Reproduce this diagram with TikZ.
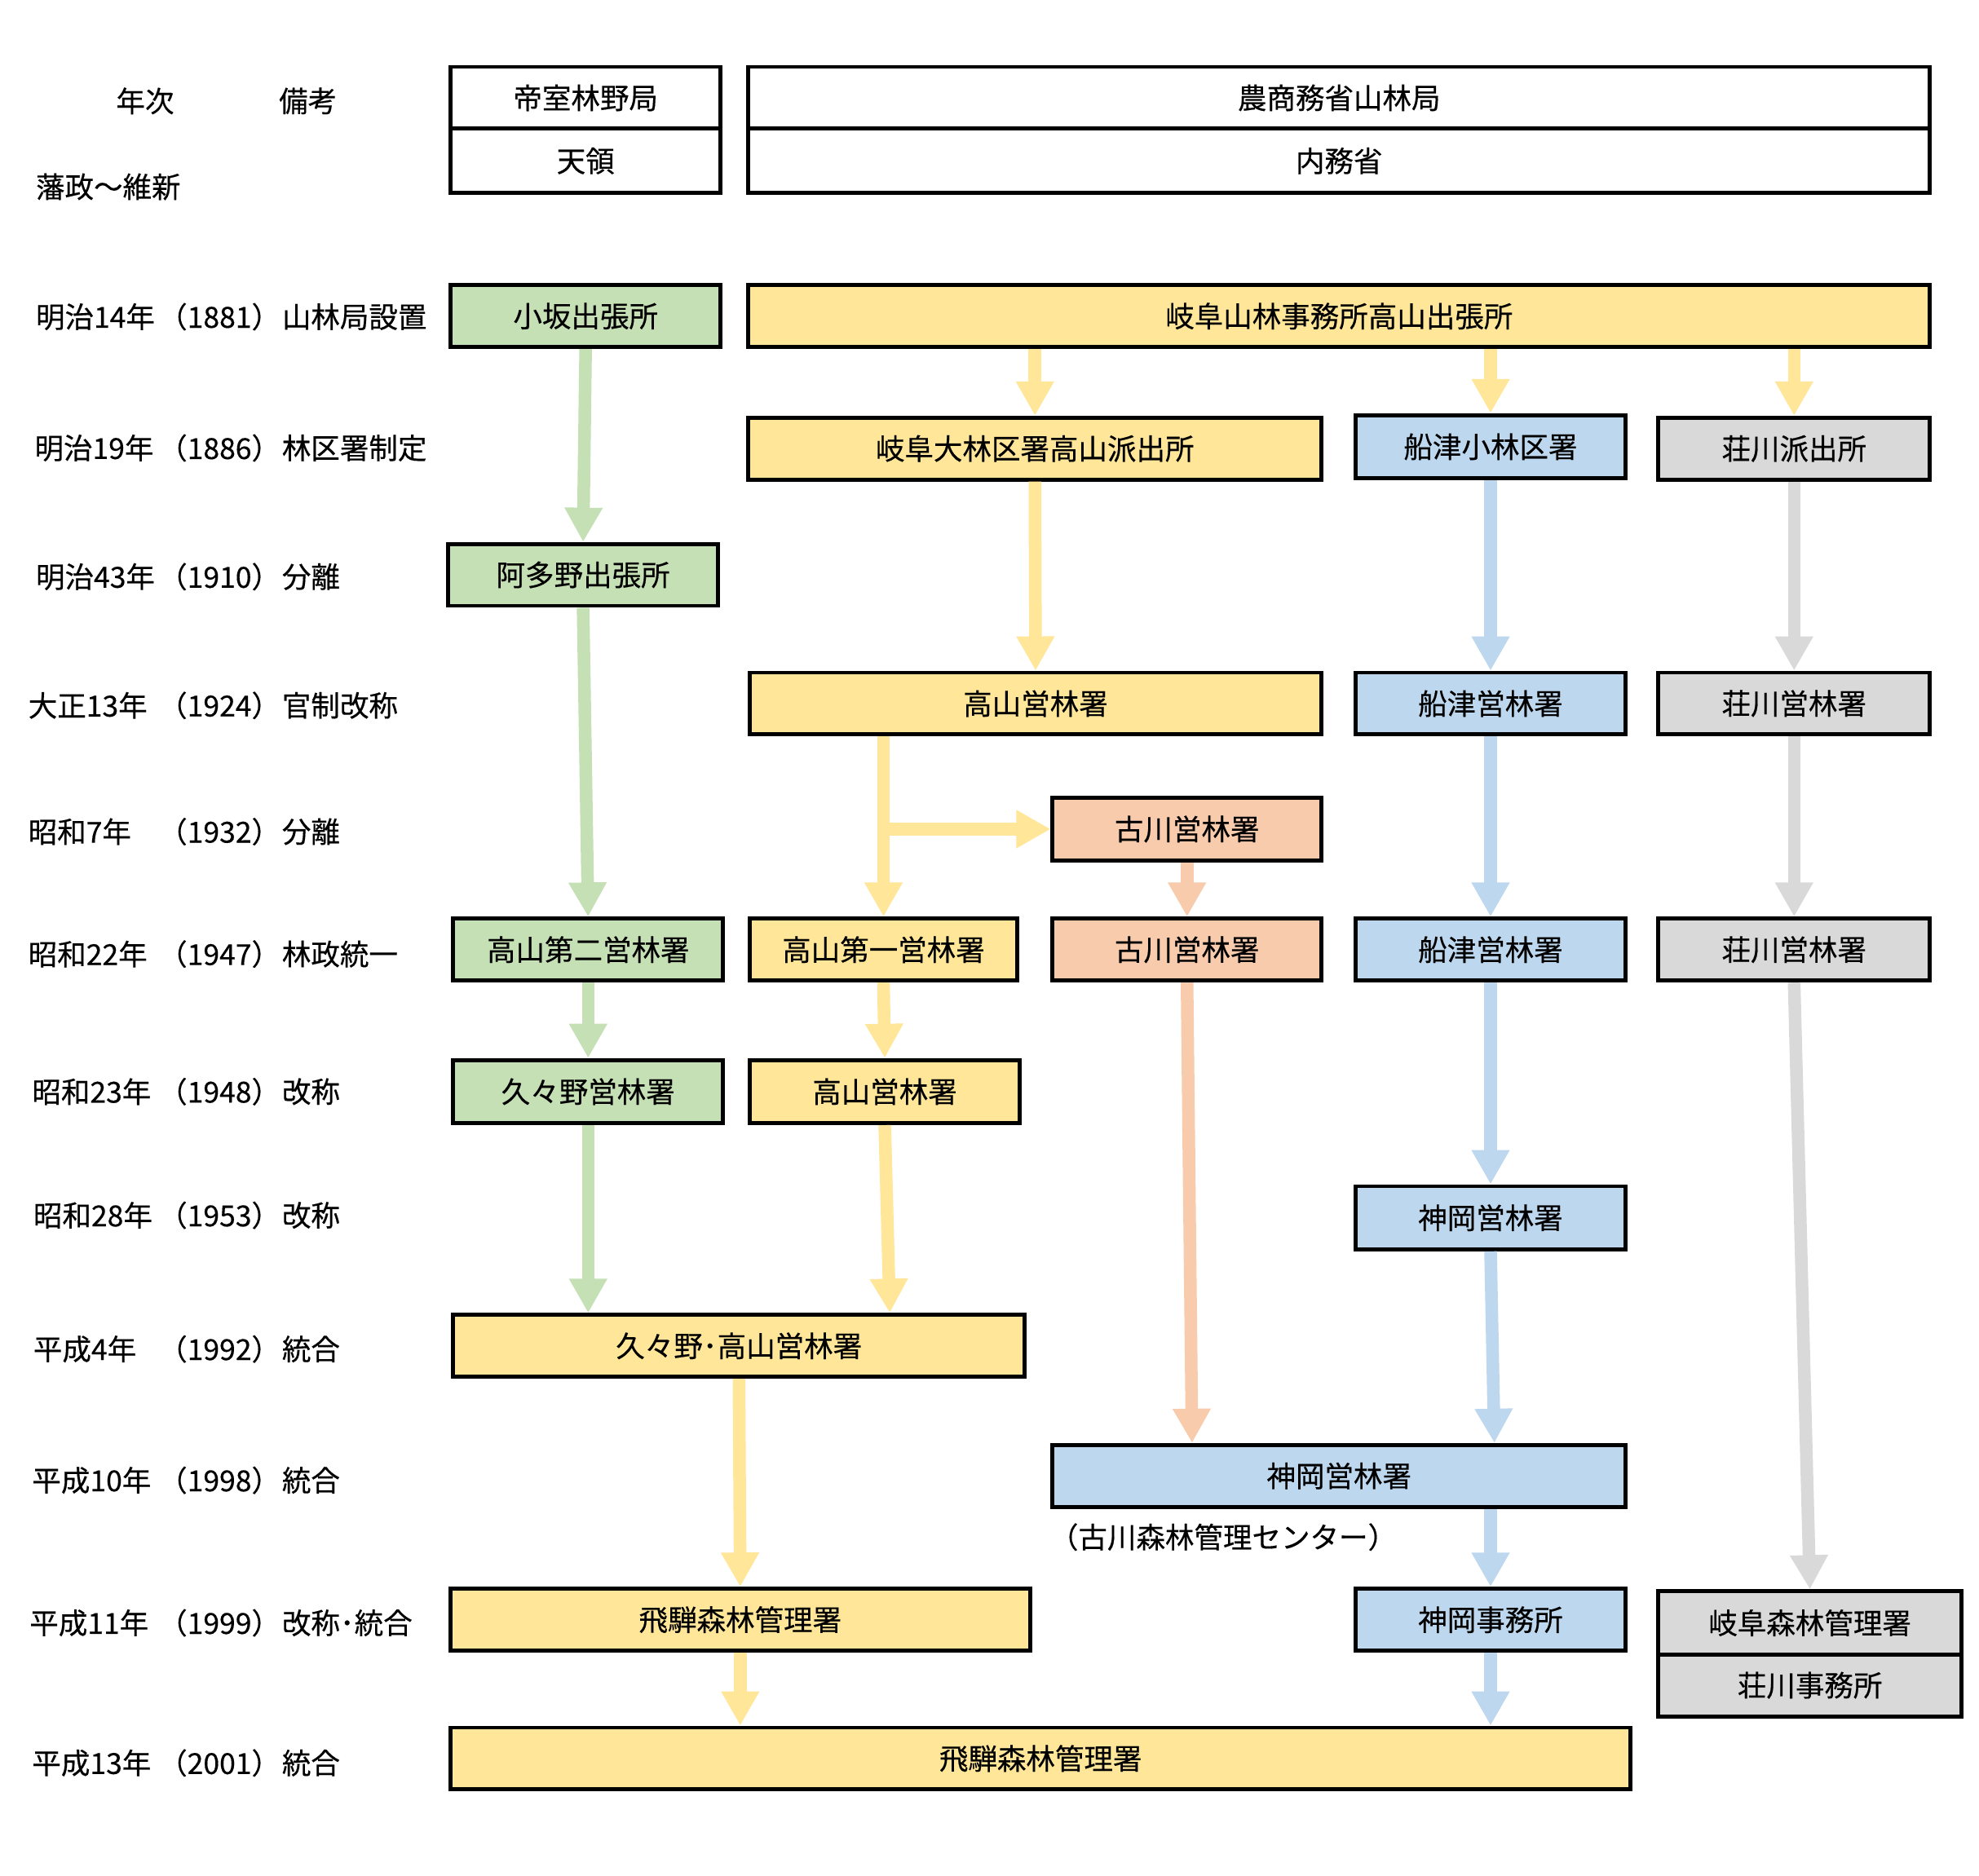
\documentclass[tikz,border=0pt]{standalone}
\usepackage{fontspec}
\newfontfamily\jp[FakeBold=0.35]{Noto Sans CJK JP}
\usetikzlibrary{arrows.meta,calc}
\definecolor{cg}{HTML}{C5E0B4}
\definecolor{cy}{HTML}{FFE699}
\definecolor{cb}{HTML}{BDD7EE}
\definecolor{cs}{HTML}{F8CBAD}
\definecolor{cgr}{HTML}{D9D9D9}
\def\pxu{0.015478cm}
\newcommand\bx[7]{\node[box,#6,minimum width={(#4-#2)*\pxu},minimum height={(#5-#3)*\pxu}] (#1) at ({(#2+#4)/2},{(#3+#5)/2}) {#7};}
\newcommand\yr[6]{\node[lbl] (#1y) at (#2,#3) {#4};\node[lbl] (#1p) at (125,#3) {#5};\node[lbl] (#1r) at (223,#3) {#6};}
\tikzset{
  jpf/.style={font=\jp\fontsize{10.1pt}{12pt}\selectfont},
  box/.style={draw=black,line width=1.4pt,inner sep=0pt,jpf},
  lbl/.style={anchor=west,inner sep=0pt,jpf},
  lblc/.style={inner sep=0pt,jpf},
  arr/.style={line width=0.155cm,-{Triangle[length=0.42cm,width=0.44cm]}},
}
\begin{document}
\begin{tikzpicture}[x=0.015478cm,y=-0.015478cm]
\useasboundingbox[fill=white] (0,0) rectangle (1568,1486);
% header
\bx{hdA}{357}{53}{571}{102}{fill=white}{帝室林野局}
\bx{hdB}{357}{102}{571}{153}{fill=white}{天領}
\bx{hdC}{593}{53}{1529}{102}{fill=white}{農商務省山林局}
\bx{hdD}{593}{102}{1529}{153}{fill=white}{内務省}
% boxes
\bx{kosaka}{357}{226}{571}{275}{fill=cg}{小坂出張所}
\bx{gifuHQ}{593}{226}{1529}{275}{fill=cy}{岐阜山林事務所高山出張所}
\bx{dairin}{593}{331}{1047}{380}{fill=cy}{岐阜大林区署高山派出所}
\bx{funaS}{1074}{329}{1288}{379}{fill=cb}{船津小林区署}
\bx{shoH}{1314}{331}{1529}{380}{fill=cgr}{荘川派出所}
\bx{atano}{355}{431}{569}{480}{fill=cg}{阿多野出張所}
\bx{taka24}{594}{533}{1047}{582}{fill=cy}{高山営林署}
\bx{funa24}{1074}{533}{1288}{582}{fill=cb}{船津営林署}
\bx{sho24}{1314}{533}{1529}{582}{fill=cgr}{荘川営林署}
\bx{furu32}{834}{632}{1047}{682}{fill=cs}{古川営林署}
\bx{taka2}{359}{728}{573}{777}{fill=cg}{高山第二営林署}
\bx{taka1}{594}{728}{806}{777}{fill=cy}{高山第一営林署}
\bx{furu47}{834}{728}{1047}{777}{fill=cs}{古川営林署}
\bx{funa47}{1074}{728}{1288}{777}{fill=cb}{船津営林署}
\bx{sho47}{1314}{728}{1529}{777}{fill=cgr}{荘川営林署}
\bx{kuku}{359}{840}{573}{890}{fill=cg}{久々野営林署}
\bx{taka48}{594}{840}{808}{890}{fill=cy}{高山営林署}
\bx{kami53}{1074}{940}{1288}{990}{fill=cb}{神岡営林署}
\bx{kukutaka}{359}{1042}{812}{1091}{fill=cy}{久々野･高山営林署}
\bx{kami98}{834}{1145}{1288}{1194}{fill=cb}{神岡営林署}
\bx{hida99}{357}{1259}{816}{1308}{fill=cy}{飛騨森林管理署}
\bx{kamiJ}{1074}{1259}{1288}{1308}{fill=cb}{神岡事務所}
\bx{gifuM}{1314}{1261}{1554}{1311}{fill=cgr}{岐阜森林管理署}
\bx{shoJ}{1314}{1311}{1554}{1360}{fill=cgr}{荘川事務所}
\bx{hida01}{357}{1369}{1292}{1418}{fill=cy}{飛騨森林管理署}
\node[lbl] (furuC) at (831,1218) {（古川森林管理センター）};
% labels
\node[lblc] (nenji) at (115,80) {年次};
\node[lblc] (biko) at (244,80) {備考};
\node[lbl] (hansei) at (28,148) {藩政～維新};
\yr{a}{28}{251}{明治14年}{（1881）}{山林局設置}
\yr{b}{27}{355}{明治19年}{（1886）}{林区署制定}
\yr{c}{28}{457}{明治43年}{（1910）}{分離}
\yr{d}{22}{559}{大正13年}{（1924）}{官制改称}
\yr{e}{22}{659}{昭和7年}{（1932）}{分離}
\yr{f}{22}{756}{昭和22年}{（1947）}{林政統一}
\yr{g}{25}{865}{昭和23年}{（1948）}{改称}
\yr{h}{26}{963}{昭和28年}{（1953）}{改称}
\yr{i}{26}{1069}{平成4年}{（1992）}{統合}
\yr{j}{25}{1173}{平成10年}{（1998）}{統合}
\yr{k}{23}{1286}{平成11年}{（1999）}{改称･統合}
\yr{l}{25}{1397}{平成13年}{（2001）}{統合}
% arrows
\draw[arr,cg] (kosaka.south) -- (atano.north);
\draw[arr,cg] (atano.south) -- (taka2.north);
\draw[arr,cg] (taka2.south) -- (kuku.north);
\draw[arr,cg] (kuku.south) -- (kuku.south |- kukutaka.north);
\draw[arr,cy] (gifuHQ.south -| dairin.north) -- (dairin.north);
\draw[arr,cy] (gifuHQ.south -| funaS.north) -- (funaS.north);
\draw[arr,cy] (gifuHQ.south -| shoH.north) -- (shoH.north);
\draw[arr,cy] (dairin.south) -- (taka24.north);
\draw[arr,cy] (taka24.south -| taka1.north) -- (taka1.north);
\draw[arr,cy] (taka1.north |- furu32.west) -- (furu32.west);
\draw[arr,cs] (furu32.south) -- (furu47.north);
\draw[arr,cy] (taka1.south) -- (taka48.north);
\draw[arr,cy] (taka48.south) -- ($(taka48.south |- kukutaka.north)+(4,0)$);
\draw[arr,cs] (furu47.south) -- ($(furu47.south |- kami98.north)+(4,0)$);
\draw[arr,cb] (funaS.south) -- (funa24.north);
\draw[arr,cb] (funa24.south) -- (funa47.north);
\draw[arr,cb] (funa47.south) -- (kami53.north);
\draw[arr,cb] (kami53.south) -- ($(kami53.south |- kami98.north)+(3,0)$);
\draw[arr,cb] (kami98.south -| kamiJ.north) -- (kamiJ.north);
\draw[arr,cb] (kamiJ.south) -- (kamiJ.south |- hida01.north);
\draw[arr,cgr] (shoH.south) -- (sho24.north);
\draw[arr,cgr] (sho24.south) -- (sho47.north);
\draw[arr,cgr] (sho47.south) -- (gifuM.north);
\draw[arr,cy] (kukutaka.south) -- (hida99.north);
\draw[arr,cy] (hida99.south) -- (hida99.south |- hida01.north);
\end{tikzpicture}
\end{document}
